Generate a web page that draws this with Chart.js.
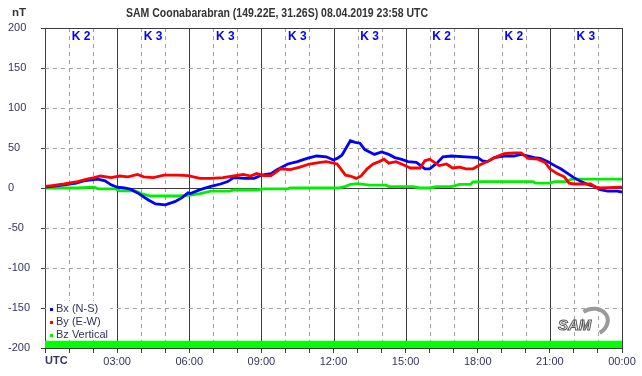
<!DOCTYPE html>
<html>
<head>
<meta charset="utf-8">
<script src="https://cdn.jsdelivr.net/npm/chart.js@4.4.1/dist/chart.umd.min.js"></script>
<style>
  html, body { margin: 0; padding: 0; background: #fff; }
  #wrap { width: 642px; height: 376px; }
</style>
</head>
<body>
<div id="wrap"><canvas id="chart"></canvas></div>
<script>
const chartTitle = 'SAM Coonabarabran (149.22E, 31.26S) 08.04.2019 23:58 UTC'
const kIndexLabels = ['K 2', 'K 3', 'K 3', 'K 3', 'K 3', 'K 2', 'K 2', 'K 3']
const yTicks = [-200, -150, -100, -50, 0, 50, 100, 150, 200]
const xTickLabels = { 3: '03:00', 6: '06:00', 9: '09:00', 12: '12:00', 15: '15:00', 18: '18:00', 21: '21:00', 24: '00:00' }

// Bx (N-S)
const bxHours = [0, 0.3, 0.8, 1.3, 1.6, 2.2, 2.5, 2.75, 3.0, 3.3, 3.55, 3.9, 4.3, 4.6, 5.0, 5.4, 5.7, 5.95, 6.05, 6.45, 6.9, 7.3, 7.6, 7.85, 8.3, 8.7, 9.0, 9.4, 9.65, 10.1, 10.5, 10.9, 11.3, 11.7, 12.0, 12.15, 12.35, 12.7, 12.9, 13.1, 13.3, 13.5, 13.7, 14.0, 14.3, 14.55, 14.8, 15.1, 15.45, 15.8, 16.0, 16.3, 16.55, 16.9, 17.5, 18.0, 18.2, 18.4, 18.7, 19.1, 19.5, 19.8, 20.1, 20.35, 20.6, 20.9, 21.2, 21.45, 21.75, 22.0, 22.3, 22.6, 22.85, 23.1, 23.4, 23.8, 24]
const bxValues = [1, 2, 4, 6, 9, 11, 9, 4, 1, 0, -1.5, -7, -15, -20, -21, -17, -12, -6, -7, -2, 2, 5, 8, 13, 12, 12, 16, 18, 23, 30, 33, 37, 40, 39, 35, 37, 41, 59, 57, 56, 48, 45, 42, 45, 42, 38, 36, 33, 32, 24, 24, 31, 39, 40, 39, 38, 34, 33, 38, 40, 40, 42, 40, 38, 37, 33, 28, 24, 18, 13, 8, 4, 2, -2, -4, -4, -5]

// By (E-W)
const byHours = [0, 0.3, 0.8, 1.35, 1.75, 2.05, 2.3, 2.75, 3.1, 3.45, 3.85, 4.1, 4.5, 4.95, 5.5, 5.95, 6.45, 6.9, 7.4, 7.85, 8.25, 8.55, 8.8, 9.1, 9.4, 9.8, 10.2, 10.6, 11.0, 11.45, 11.7, 12.15, 12.35, 12.5, 12.7, 12.95, 13.15, 13.4, 13.65, 13.9, 14.1, 14.3, 14.6, 14.9, 15.2, 15.6, 15.8, 16.0, 16.2, 16.4, 16.7, 16.95, 17.25, 17.5, 17.8, 18.1, 18.4, 18.7, 19.1, 19.5, 19.8, 20.1, 20.5, 20.8, 21.0, 21.3, 21.6, 21.8, 22.0, 22.7, 22.9, 23.1, 24]
const byValues = [2, 3, 5, 8, 11, 13, 15, 13, 15, 14, 17, 14, 13, 16, 16, 15.5, 12, 12, 13, 15, 17, 15, 18, 15.5, 15.5, 24, 23, 26, 30, 32, 33, 30, 22, 16, 15, 12, 15, 24, 30, 33, 36, 31, 33, 29, 25, 25, 34, 36, 32, 28, 30, 25, 26, 24, 24, 29, 33, 38, 43, 44, 44, 37, 36, 32, 24, 18, 14, 6, 5, 5, 1, 0, 1]

// Bz Vertical
const bzHours = [0, 1.3, 2.05, 2.2, 2.95, 3.1, 3.75, 4.0, 4.4, 5.5, 5.8, 6.05, 6.45, 6.9, 7.7, 7.85, 8.8, 9.1, 10.1, 10.2, 12.2, 12.5, 12.7, 13.0, 13.5, 14.2, 14.3, 15.3, 15.6, 16.0, 16.3, 16.9, 17.25, 17.7, 17.8, 18.2, 20.3, 20.4, 21.0, 21.2, 21.7, 21.9, 24]
const bzValues = [0, 0, 1, -1, -1, -3.5, -3.5, -7, -10, -10, -9.5, -9, -7, -4, -4, -2.5, -2.5, -1, -1, 0, 0, 2, 4.5, 5.5, 3.5, 3.5, 1.7, 1.7, 0, 0, 1.7, 1.7, 4.5, 4.5, 7.5, 8, 8, 6, 6, 8, 8, 11, 11]

// green status band along the bottom
const bandHours = [0, 24]
const bandValues = [-191, -191]

const toPoints = (xs, ys) => xs.map((x, i) => ({ x, y: ys[i] }))

const axisTextColor = '#34345e'
const darkLine = '#3c3c3c'

const decorPlugin = {
    id: 'decor',
    beforeDatasetsDraw(chart) {
        const { ctx, chartArea: a, scales: { x, y } } = chart
        ctx.save()
        ctx.lineWidth = 1
        for (let h = 1; h <= 24; h++) {
            const px = Math.round(x.getPixelForValue(h)) + 0.5
            ctx.beginPath()
            if (h % 3 === 0) {
                ctx.strokeStyle = darkLine
                ctx.setLineDash([])
            } else {
                ctx.strokeStyle = '#a0a0a0'
                ctx.setLineDash([4, 4])
            }
            ctx.moveTo(px, a.top)
            ctx.lineTo(px, a.bottom)
            ctx.stroke()
        }
        yTicks.forEach(v => {
            if (v === -200) return
            const py = Math.round(y.getPixelForValue(v)) + 0.5
            ctx.beginPath()
            if (v === 0 || v === 200) {
                ctx.strokeStyle = darkLine
                ctx.setLineDash([])
            } else {
                ctx.strokeStyle = '#a0a0a0'
                ctx.setLineDash([4, 4])
            }
            ctx.moveTo(a.left, py)
            ctx.lineTo(a.right, py)
            ctx.stroke()
        })
        // white box behind the legend
        ctx.fillStyle = '#fff'
        ctx.fillRect(a.left + 1, 301, 64, 38)
        ctx.restore()
    },
    afterDraw(chart) {
        const { ctx, chartArea: a, scales: { x } } = chart
        ctx.save()
        // title, squeezed a little to the width of the original narrow face
        ctx.fillStyle = '#333'
        ctx.font = 'bold 12px "Liberation Sans", Arial, sans-serif'
        ctx.textBaseline = 'middle'
        ctx.textAlign = 'left'
        const tw = ctx.measureText(chartTitle).width
        ctx.save()
        ctx.translate(126, 14)
        ctx.scale(302 / tw, 1)
        ctx.fillText(chartTitle, 0, 0)
        ctx.restore()
        ctx.font = 'bold 11.5px "Liberation Sans", Arial, sans-serif'
        ctx.fillText('nT', 12, 13)

        // K index labels, one per 3 hour block
        ctx.fillStyle = '#0000ff'
        ctx.font = 'bold 12px "Liberation Sans", Arial, sans-serif'
        ctx.textAlign = 'center'
        kIndexLabels.forEach((lbl, i) => {
            ctx.fillText(lbl, x.getPixelForValue(i * 3 + 1.5), 37)
        })

        // UTC label under the axis start
        ctx.fillStyle = axisTextColor
        ctx.font = 'bold 11px "Liberation Sans", Arial, sans-serif'
        ctx.textAlign = 'left'
        ctx.fillText('UTC', a.left, 361)

        // legend inside the plot
        ctx.font = '11px "Liberation Sans", Arial, sans-serif'
        chart.data.datasets.forEach((ds, i) => {
            if (!ds.label) return
            const ly = 309 + i * 13
            ctx.fillStyle = ds.borderColor
            ctx.fillRect(a.left + 5, ly - 1, 3, 3)
            ctx.fillStyle = '#33335a'
            ctx.fillText(ds.label, a.left + 11, ly)
        })

        // SAM logo
        ctx.strokeStyle = '#9a9a9a'
        ctx.lineWidth = 4
        ctx.beginPath()
        ctx.ellipse(592, 322, 16, 13, -0.3, -1.9, 1.3)
        ctx.stroke()
        ctx.fillStyle = '#fff'
        ctx.strokeStyle = '#555'
        ctx.lineWidth = 1
        ctx.font = 'italic bold 15px "Liberation Sans", Arial, sans-serif'
        ctx.textAlign = 'left'
        ctx.fillText('SAM', 558, 326)
        ctx.strokeText('SAM', 558, 326)
        ctx.restore()
    }
}

const ctx = document.getElementById('chart').getContext('2d')
new Chart(ctx, {
    type: 'line',
    data: {
        datasets: [
            {
                label: 'Bx (N-S)',
                data: toPoints(bxHours, bxValues),
                borderColor: '#0000ff',
                borderWidth: 2.8,
                pointRadius: 0,
                order: 1
            },
            {
                label: 'By (E-W)',
                data: toPoints(byHours, byValues),
                borderColor: '#ff0000',
                borderWidth: 2.8,
                pointRadius: 0,
                order: 0
            },
            {
                label: 'Bz Vertical',
                data: toPoints(bzHours, bzValues),
                borderColor: '#00ee00',
                borderWidth: 2.8,
                pointRadius: 0,
                order: 2
            },
            {
                label: '',
                data: toPoints(bandHours, bandValues),
                borderWidth: 0,
                borderColor: '#00ff00',
                backgroundColor: '#00ff00',
                fill: 'start',
                pointRadius: 0,
                order: 3
            }
        ]
    },
    options: {
        responsive: true,
        maintainAspectRatio: false,
        animation: false,
        layout: {
            padding: { top: 28, left: 8, right: 20, bottom: 0 }
        },
        plugins: {
            legend: { display: false },
            title: { display: false },
            tooltip: { enabled: false }
        },
        scales: {
            x: {
                type: 'linear',
                min: 0,
                max: 24,
                afterFit: (scale) => { scale.height = 28 },
                afterBuildTicks: (scale) => {
                    scale.ticks = Array.from({ length: 25 }, (_, h) => ({ value: h }))
                },
                ticks: {
                    autoSkip: false,
                    maxRotation: 0,
                    color: axisTextColor,
                    padding: 2,
                    font: { size: 11, family: '"Liberation Sans", Arial, sans-serif' },
                    callback: (v) => xTickLabels[v] || ''
                },
                grid: {
                    drawOnChartArea: false,
                    tickLength: 5,
                    color: darkLine
                },
                border: { color: darkLine }
            },
            y: {
                min: -200,
                max: 200,
                afterFit: (scale) => { scale.width = 37 },
                afterBuildTicks: (scale) => {
                    scale.ticks = yTicks.map(v => ({ value: v }))
                },
                ticks: {
                    crossAlign: 'far',
                    color: axisTextColor,
                    font: { size: 11, family: '"Liberation Sans", Arial, sans-serif' }
                },
                grid: {
                    drawOnChartArea: false,
                    tickLength: 4,
                    color: darkLine
                },
                border: { color: darkLine }
            }
        }
    },
    plugins: [decorPlugin]
})
</script>
</body>
</html>
